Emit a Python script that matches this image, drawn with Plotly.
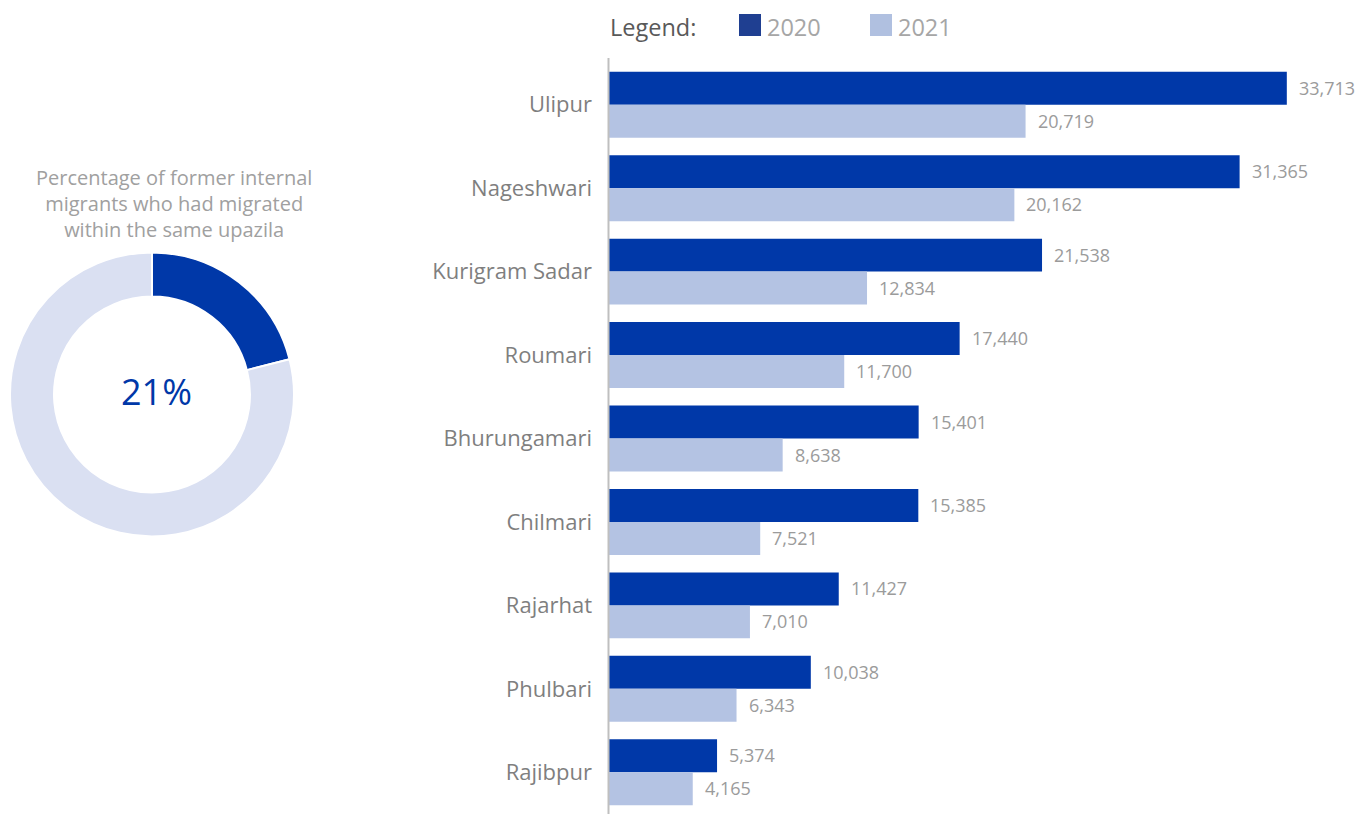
import plotly.graph_objects as go

# Upazila totals by year
upazilas = ["Ulipur", "Nageshwari", "Kurigram Sadar", "Roumari", "Bhurungamari",
            "Chilmari", "Rajarhat", "Phulbari", "Rajibpur"]
values_2020 = [33713, 31365, 21538, 17440, 15401, 15385, 11427, 10038, 5374]
values_2021 = [20719, 20162, 12834, 11700, 8638, 7521, 7010, 6343, 4165]

# Share of former internal migrants who stayed within the same upazila
share_labels = ["Same upazila", "Other"]
share_values = [21, 79]
caption_lines = ["Percentage of former internal",
                 "migrants who had migrated",
                 "within the same upazila"]

W, H = 1371, 814
DARK = "#0038A8"
LIGHT = "#B4C3E3"
DONUT_LIGHT = "#DAE0F2"
FONT = "Open Sans"

def px_x(x):
    return x / W

def px_y(y):
    return 1 - y / H

fig = go.Figure()

fig.add_trace(go.Bar(
    y=upazilas, x=values_2020, name="2020", orientation="h",
    marker=dict(color=DARK, line=dict(width=0)), hoverinfo="x+y",
))
fig.add_trace(go.Bar(
    y=upazilas, x=values_2021, name="2021", orientation="h",
    marker=dict(color=LIGHT, line=dict(width=0)), hoverinfo="x+y",
))

fig.add_trace(go.Pie(
    labels=share_labels, values=share_values, hole=0.69, sort=False,
    direction="clockwise", rotation=0,
    marker=dict(colors=[DARK, DONUT_LIGHT], line=dict(color="white", width=2)),
    textinfo="none", hoverinfo="label+percent", showlegend=False,
    domain=dict(x=[px_x(10), px_x(294)], y=[px_y(537), px_y(252)]),
))

annotations = []
# value labels to the right of each bar
for name, v20, v21 in zip(upazilas, values_2020, values_2021):
    for val, shift in ((v20, 17), (v21, -16)):
        annotations.append(dict(
            x=val, y=name, xref="x", yref="y", text=f"{val:,}",
            showarrow=False, xanchor="left", yanchor="middle",
            xshift=10, yshift=shift,
            font=dict(family=FONT, size=18, color="#9B9B9B"),
        ))

# donut caption
annotations.append(dict(
    x=px_x(174), y=px_y(204), xref="paper", yref="paper",
    text="<br>".join(caption_lines), showarrow=False,
    xanchor="center", yanchor="middle", align="center", borderpad=0,
    font=dict(family=FONT, size=20, color="#A0A0A0"),
))
annotations.append(dict(
    x=px_x(156), y=px_y(391), xref="paper", yref="paper",
    text=f"{share_values[0]}%", showarrow=False,
    xanchor="center", yanchor="middle",
    font=dict(family=FONT, size=36, color=DARK),
))

# legend row
annotations.append(dict(
    x=px_x(608), y=px_y(27), xref="paper", yref="paper", text="Legend:",
    showarrow=False, xanchor="left", yanchor="middle",
    font=dict(family=FONT, size=23.5, color="#595959"),
))
shapes = []
for label, color, sq_x in (("2020", "#1F3F91", 739), ("2021", "#B0C0E0", 870)):
    shapes.append(dict(
        type="rect", xref="paper", yref="paper",
        x0=px_x(sq_x), x1=px_x(sq_x + 22), y0=px_y(36), y1=px_y(14),
        fillcolor=color, line=dict(width=0),
    ))
    annotations.append(dict(
        x=px_x(sq_x + 26), y=px_y(27), xref="paper", yref="paper", text=label,
        showarrow=False, xanchor="left", yanchor="middle",
        font=dict(family=FONT, size=23.5, color="#A6A6A6"),
    ))

# left axis line running from just below the legend to the bottom edge
shapes.append(dict(
    type="line", xref="paper", yref="paper",
    x0=px_x(608.5), x1=px_x(608.5), y0=0, y1=px_y(58),
    line=dict(color="#BFBFBF", width=2),
))

fig.update_layout(
    width=W, height=H,
    margin=dict(l=0, r=0, t=0, b=0),
    paper_bgcolor="white", plot_bgcolor="white",
    barmode="group", bargap=0.21, bargroupgap=0,
    showlegend=False,
    font=dict(family=FONT),
    xaxis=dict(
        domain=[px_x(609), 1], range=[0, 37900],
        showgrid=False, zeroline=False, showline=False,
        showticklabels=False, ticks="",
    ),
    yaxis=dict(
        domain=[0, px_y(63)], autorange="reversed",
        showgrid=False, zeroline=False, showline=False, ticks="",
        ticklabelstandoff=16,
        tickfont=dict(family=FONT, size=22, color="#7F7F7F"),
    ),
    annotations=annotations,
    shapes=shapes,
)

fig.write_html("out.html")
